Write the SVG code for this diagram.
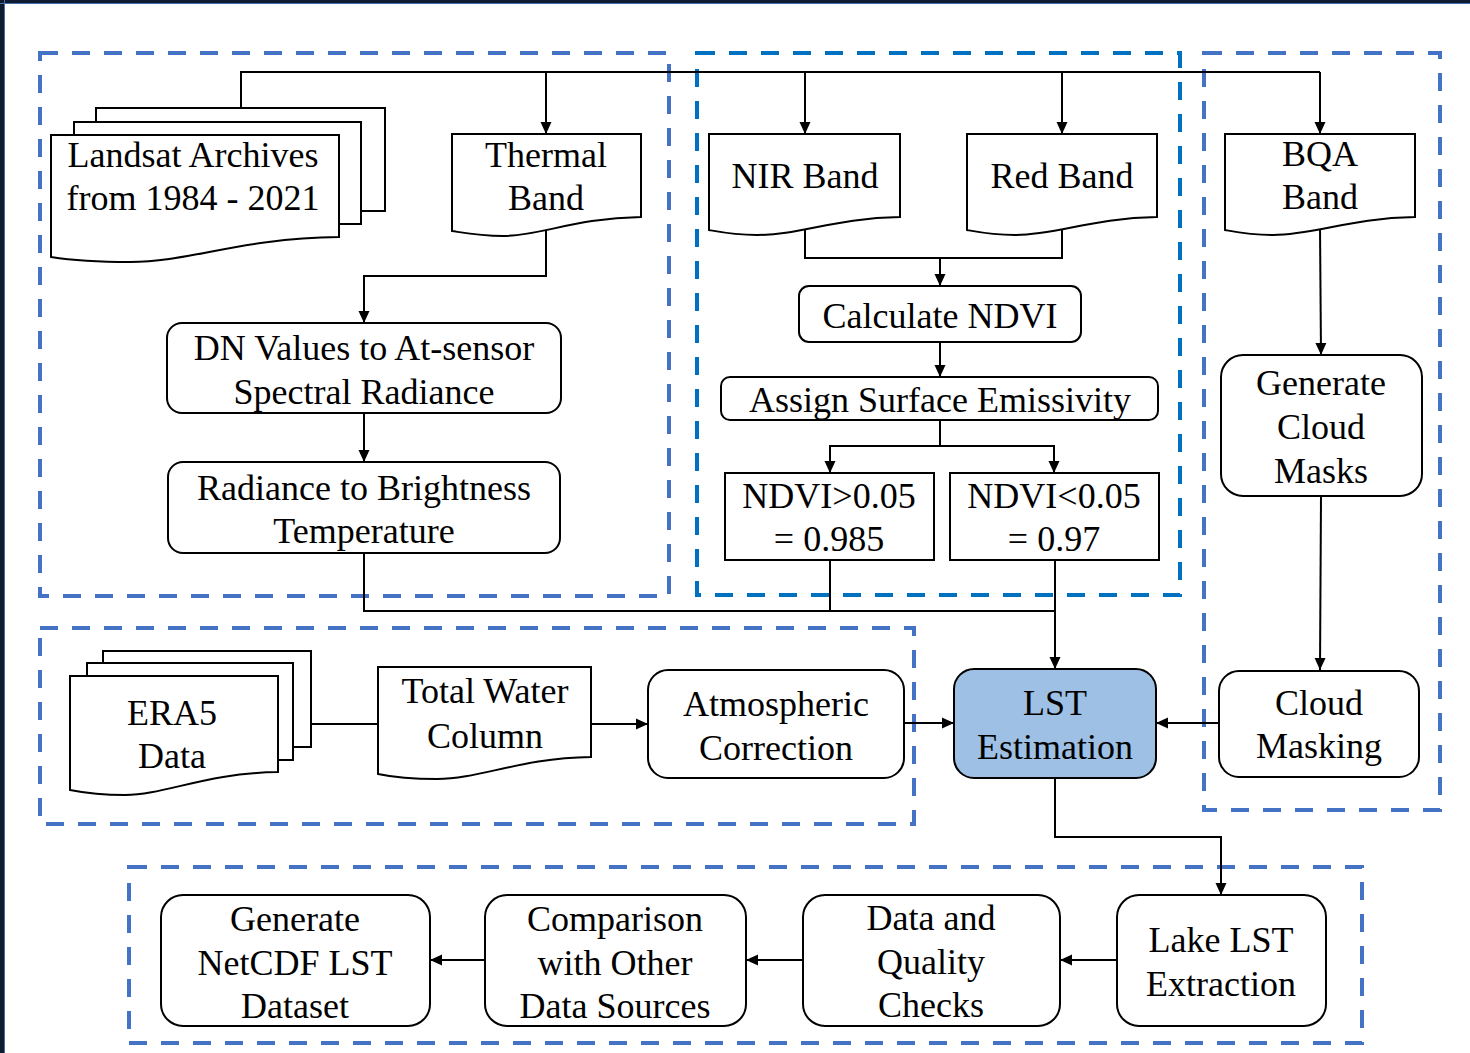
<svg xmlns="http://www.w3.org/2000/svg" width="1470" height="1053" viewBox="0 0 1470 1053">
<style>
.grp{fill:none;stroke:#4472c4;stroke-width:4;stroke-dasharray:18 14}
.grpb{fill:none;stroke:#0070c0;stroke-width:4;stroke-dasharray:18 14}
.n{fill:#fff;stroke:#000;stroke-width:2}
.c{fill:none;stroke:#000;stroke-width:2}
.ca{fill:none;stroke:#000;stroke-width:2;marker-end:url(#ah)}
text{font-family:"Liberation Serif","Times New Roman",serif;font-size:36px;fill:#000;text-anchor:middle}
</style>
<defs>
<marker id="ah" viewBox="0 0 12 12" markerWidth="12" markerHeight="12" markerUnits="userSpaceOnUse" refX="12" refY="6" orient="auto">
<path d="M0,0.5 L12,6 L0,11.5 Z" fill="#000"/>
</marker>
</defs>
<rect x="0" y="0" width="1470" height="1053" fill="#fff"/>
<rect x="0" y="0" width="1470" height="3" fill="#0f1b30"/>
<rect x="0" y="0" width="4" height="1053" fill="#0f1b30"/>
<line x1="0" y1="3.5" x2="1470" y2="3.5" stroke="#4a6ea8" stroke-width="1"/>
<line x1="4.5" y1="0" x2="4.5" y2="1053" stroke="#4a6ea8" stroke-width="1"/>

<g id="groups">
<rect class="grp" x="40" y="53" width="629" height="543"/>
<rect class="grpb" x="697" y="53" width="483" height="542"/>
<rect class="grp" x="1204" y="53" width="236" height="757"/>
<rect class="grp" x="40" y="628" width="874" height="196"/>
<rect class="grp" x="129" y="867" width="1233" height="176"/>
</g>

<g id="connectors">
<path class="c" d="M241,108 V72 H1320"/>
<path class="ca" d="M546,72 V134"/>
<path class="ca" d="M805,72 V134"/>
<path class="ca" d="M1062,72 V134"/>
<path class="ca" d="M1320,72 V134"/>
<path class="ca" d="M546,230 V276 H364 V323"/>
<path class="ca" d="M364,413 V462"/>
<path class="c" d="M805,228 V258 H1062 V228"/>
<path class="ca" d="M940,258 V286"/>
<path class="ca" d="M940,342 V377"/>
<path class="c" d="M940,420 V446"/>
<path class="ca" d="M940,446 H830 V473"/>
<path class="ca" d="M940,446 H1054 V473"/>
<path class="c" d="M364,553 V611 H1054"/>
<path class="c" d="M830,560 V611"/>
<path class="ca" d="M1055,560 V669" stroke-width="2.5"/>
<path class="ca" d="M1320,228 L1321,355"/>
<path class="ca" d="M1321,496 L1320,670"/>
<path class="ca" d="M1219,723 H1156"/>
<path class="c" d="M311,724 H378"/>
<path class="ca" d="M591,724 H648"/>
<path class="ca" d="M904,723 H954"/>
<path class="ca" d="M1055,778 V837 H1221 V895"/>
<path class="ca" d="M1117,960 H1060"/>
<path class="ca" d="M803,960 H746"/>
<path class="ca" d="M485,960 H430"/>
</g>

<g id="landsat">
<rect class="n" x="96" y="108" width="289" height="103"/>
<rect class="n" x="74" y="122" width="287" height="102"/>
<path class="n" d="M51,135 H339 V237 C240,238 190,262 130,262 C95,262 70,260 51,257 Z"/>
<text x="193" y="167">Landsat Archives</text>
<text x="193" y="210">from 1984 - 2021</text>
</g>
<g id="thermal">
<path class="n" d="M452,134 H641 V217 C575,218 540,236 503,236 C480,236 465,233 452,231 Z"/>
<text x="546" y="167">Thermal</text>
<text x="546" y="210">Band</text>
</g>
<g id="nir">
<path class="n" d="M709,134 H900 V217 C835,218 800,235 757,235 C735,235 720,232 709,230 Z"/>
<text x="805" y="188">NIR Band</text>
</g>
<g id="red">
<path class="n" d="M967,134 H1157 V217 C1092,218 1057,235 1015,235 C993,235 978,232 967,230 Z"/>
<text x="1062" y="188">Red Band</text>
</g>
<g id="bqa">
<path class="n" d="M1225,134 H1415 V217 C1350,218 1315,235 1273,235 C1251,235 1236,232 1225,230 Z"/>
<text x="1320" y="166">BQA</text>
<text x="1320" y="209">Band</text>
</g>
<g id="dn">
<rect class="n" x="167" y="323" width="394" height="90" rx="15"/>
<text x="364" y="360">DN Values to At-sensor</text>
<text x="364" y="404">Spectral Radiance</text>
</g>
<g id="radiance">
<rect class="n" x="168" y="462" width="392" height="91" rx="15"/>
<text x="364" y="500">Radiance to Brightness</text>
<text x="364" y="543">Temperature</text>
</g>
<g id="ndvi">
<rect class="n" x="799" y="286" width="282" height="56" rx="10"/>
<text x="940" y="328">Calculate NDVI</text>
</g>
<g id="emissivity">
<rect class="n" x="721" y="377" width="437" height="43" rx="9"/>
<text x="940" y="412">Assign Surface Emissivity</text>
</g>
<g id="ndvi-high">
<rect class="n" x="725" y="473" width="209" height="87"/>
<text x="829" y="508">NDVI&gt;0.05</text>
<text x="829" y="551">= 0.985</text>
</g>
<g id="ndvi-low">
<rect class="n" x="950" y="473" width="209" height="87"/>
<text x="1054" y="508">NDVI&lt;0.05</text>
<text x="1054" y="551">= 0.97</text>
</g>
<g id="gen-cloud">
<rect class="n" x="1221" y="355" width="201" height="141" rx="22"/>
<text x="1321" y="395">Generate</text>
<text x="1321" y="439">Cloud</text>
<text x="1321" y="483">Masks</text>
</g>
<g id="cloud-mask">
<rect class="n" x="1219" y="671" width="200" height="106" rx="20"/>
<text x="1319" y="715">Cloud</text>
<text x="1319" y="758">Masking</text>
</g>
<g id="lst">
<rect x="954" y="669" width="202" height="109" rx="20" fill="#9dc0e4" stroke="#000" stroke-width="2"/>
<text x="1055" y="715">LST</text>
<text x="1055" y="759">Estimation</text>
</g>
<g id="era5">
<rect class="n" x="103" y="651" width="208" height="96"/>
<rect class="n" x="87" y="663" width="206" height="97"/>
<path class="n" d="M70,676 H278 V772 C205,773 165,795 125,795 C100,795 85,793 70,790 Z"/>
<text x="172" y="725">ERA5</text>
<text x="172" y="768">Data</text>
</g>
<g id="water">
<path class="n" d="M378,667 H591 V757 C520,758 480,779 437,779 C410,779 392,777 378,774 Z"/>
<text x="485" y="703">Total Water</text>
<text x="485" y="748">Column</text>
</g>
<g id="atmos">
<rect class="n" x="648" y="670" width="256" height="108" rx="20"/>
<text x="776" y="716">Atmospheric</text>
<text x="776" y="760">Correction</text>
</g>
<g id="netcdf">
<rect class="n" x="161" y="895" width="269" height="131" rx="22"/>
<text x="295" y="931">Generate</text>
<text x="295" y="975">NetCDF LST</text>
<text x="295" y="1018">Dataset</text>
</g>
<g id="comparison">
<rect class="n" x="485" y="895" width="261" height="131" rx="22"/>
<text x="615" y="931">Comparison</text>
<text x="615" y="975">with Other</text>
<text x="615" y="1018">Data Sources</text>
</g>
<g id="quality">
<rect class="n" x="803" y="895" width="257" height="131" rx="22"/>
<text x="931" y="930">Data and</text>
<text x="931" y="974">Quality</text>
<text x="931" y="1017">Checks</text>
</g>
<g id="lake">
<rect class="n" x="1117" y="895" width="209" height="131" rx="22"/>
<text x="1221" y="952">Lake LST</text>
<text x="1221" y="996">Extraction</text>
</g>
</svg>
